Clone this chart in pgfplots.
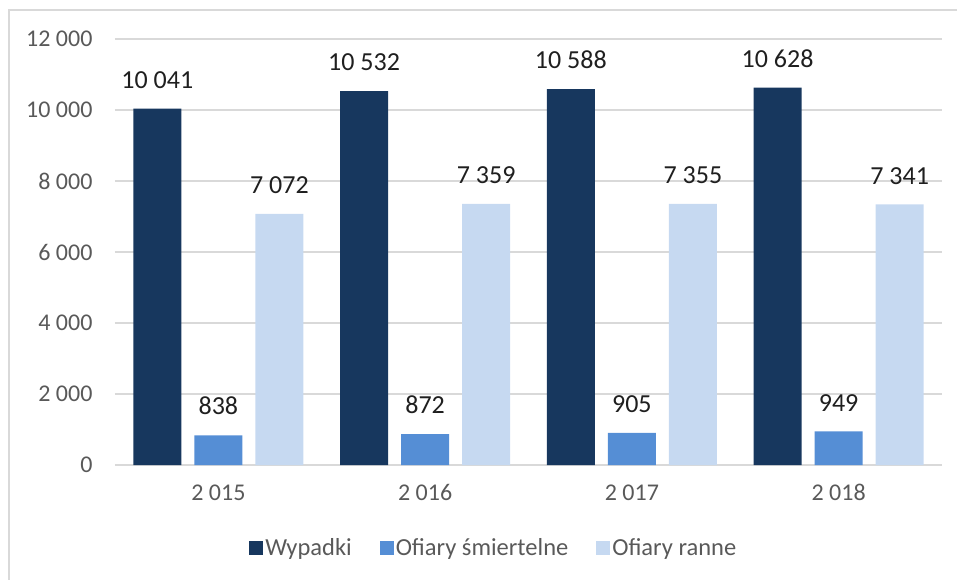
\documentclass[border=0pt]{standalone}
\usepackage{fontspec}
\setmainfont{Carlito}
\usepackage{pgfplots}
\pgfplotsset{compat=1.18}
\definecolor{cDark}{HTML}{17375E}
\definecolor{cMid}{HTML}{558ED5}
\definecolor{cLight}{HTML}{C6D9F1}
\definecolor{cGrid}{HTML}{D9D9D9}
\definecolor{cText}{HTML}{595959}
\definecolor{cLabel}{HTML}{1F1F1F}
\begin{document}
\begin{tikzpicture}
\path[use as bounding box] (-115pt,-115pt) rectangle (842pt,465pt);
\draw[cGrid, line width=2pt] (-105.5pt,-140pt) -- (-105.5pt,455pt) -- (870pt,455pt);
\begin{axis}[
  at={(0pt,0pt)}, anchor=south west,
  scale only axis, width=827pt, height=426pt,
  ybar=13pt, bar width=48pt,
  xmin=-0.5, xmax=3.5, ymin=0, ymax=12000,
  xtick={0,1,2,3}, xticklabels={2\ 015,2\ 016,2\ 017,2\ 018},
  ytick={0,2000,4000,6000,8000,10000,12000},
  scaled y ticks=false,
  axis line style={draw=none},
  major tick length=0pt,
  ymajorgrids, grid style={cGrid, line width=1.5pt},
  ticklabel style={font=\fontsize{24}{28}\selectfont, text=cText},
  yticklabel style={xshift=-19pt},
  xticklabel style={yshift=-16pt},
  /pgf/number format/.cd, 1000 sep={\ }, assume math mode=true, /pgfplots/.cd,
  nodes near coords,
  every node near coord/.append style={font=\fontsize{26}{30}\selectfont, text=cLabel, anchor=south, inner sep=0pt, yshift=20pt},
  legend columns=3,
  legend image code/.code={\fill[#1] (0pt,-7pt) rectangle (14pt,7pt);},
  legend style={at={(rel axis cs:0.458,0)}, anchor=center, yshift=-83pt, draw=none, fill=none,
    font=\fontsize{24.5}{28}\selectfont, text=cText,
    /tikz/every even column/.append style={column sep=26pt}},
]
\addplot[draw=none, fill=cDark] coordinates {(0,10041) (1,10532) (2,10588) (3,10628)};
\addplot[draw=none, fill=cMid] coordinates {(0,838) (1,872) (2,905) (3,949)};
\addplot[draw=none, fill=cLight] coordinates {(0,7072) (1,7359) (2,7355) (3,7341)};
\legend{Wypadki, Ofiary śmiertelne, Ofiary ranne}
\end{axis}
\end{tikzpicture}
\end{document}
